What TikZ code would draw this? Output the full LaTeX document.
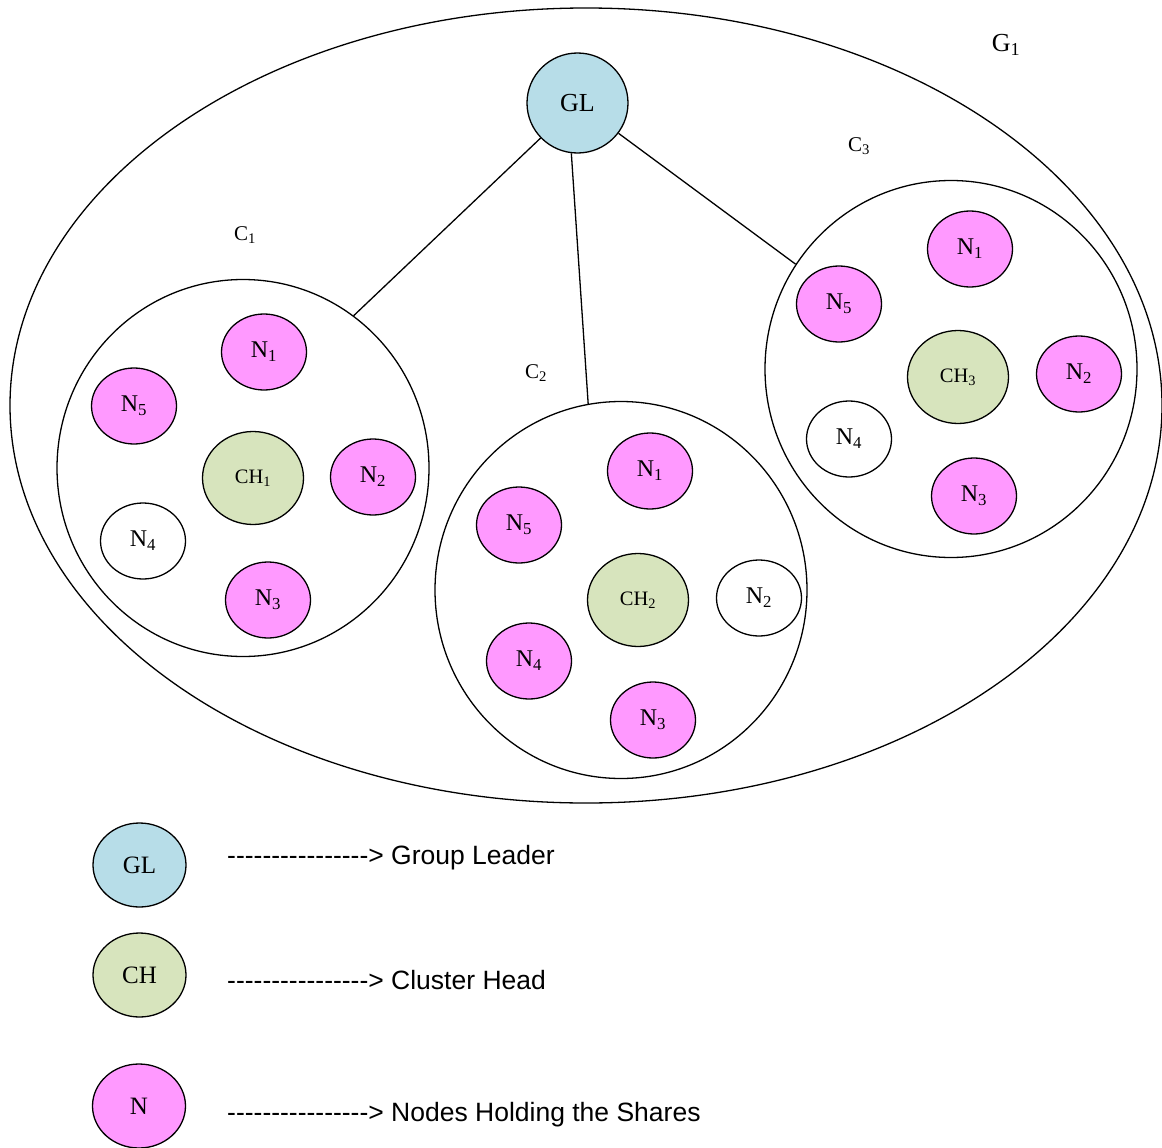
\documentclass[tikz,border=0pt]{standalone}
\usepackage{fontspec}
\setmainfont{Liberation Serif}
\newfontfamily\arialfont{Liberation Sans}
\usetikzlibrary{shapes.geometric}
\definecolor{glblue}{RGB}{183,221,232}
\definecolor{chgreen}{RGB}{215,228,189}
\definecolor{npink}{RGB}{255,153,255}
\newcommand{\dashrun}{-{}-{}-{}-{}-{}-{}-{}-{}-{}-{}-{}-{}-{}-{}-{}-{}>}
\begin{document}
\begin{tikzpicture}[x=1pt,y=-1pt,
  every node/.style={inner sep=0pt},
  base/.style={ellipse,draw=black,line width=1.3pt},
  nnode/.style={base,fill=npink,minimum width=85pt,minimum height=76pt,font=\fontsize{24}{26}\selectfont},
  wnode/.style={base,fill=white,minimum width=85pt,minimum height=76pt,font=\fontsize{24}{26}\selectfont},
  chnode/.style={base,fill=chgreen,minimum width=101pt,minimum height=93pt,font=\fontsize{20.5}{24}\selectfont},
  glnode/.style={base,fill=glblue,minimum width=101pt,minimum height=100pt,font=\fontsize{26}{28}\selectfont},
  cluster/.style={base,minimum width=372pt,minimum height=377pt},
  clabel/.style={font=\fontsize{21}{24}\selectfont},
  legnode/.style={base,minimum width=93pt,minimum height=84pt,font=\fontsize{25}{28}\selectfont},
  legtext/.style={anchor=west,font=\arialfont\fontsize{26.5}{30}\selectfont},
  link/.style={line width=1.3pt}
]
\useasboundingbox (0,0) rectangle (1162,1148);
% outer group
\node[base,minimum width=1152pt,minimum height=795pt] (G) at (586,405.5) {};
\node[font=\fontsize{26}{28}\selectfont] (Glab) at (1006,45) {G\textsubscript{1}};
% group leader
\node[glnode] (GL) at (577.5,103) {GL};
% clusters
\node[cluster] (C1) at (243,468) {};
\node[cluster] (C2) at (621,590) {};
\node[cluster] (C3) at (951,369) {};
\node[clabel] (C1l) at (245,235) {C\textsubscript{1}};
\node[clabel] (C2l) at (536,373) {C\textsubscript{2}};
\node[clabel] (C3l) at (859,146) {C\textsubscript{3}};
% links
\draw[link] (GL) -- (C1.54);
\draw[link] (GL.263) -- (C2.100);
\draw[link] (GL) -- (C3.146);
% cluster 1
\node[nnode] (a1) at (264,352) {N\textsubscript{1}};
\node[nnode] (a5) at (134,406) {N\textsubscript{5}};
\node[chnode] (ach) at (253,478) {CH\textsubscript{1}};
\node[nnode] (a2) at (373,477) {N\textsubscript{2}};
\node[wnode] (a4) at (143,541) {N\textsubscript{4}};
\node[nnode] (a3) at (268,600) {N\textsubscript{3}};
% cluster 2
\node[nnode] (b1) at (650,471) {N\textsubscript{1}};
\node[nnode] (b5) at (519,525) {N\textsubscript{5}};
\node[chnode] (bch) at (638,600) {CH\textsubscript{2}};
\node[wnode] (b2) at (759,598) {N\textsubscript{2}};
\node[nnode] (b4) at (529,661) {N\textsubscript{4}};
\node[nnode] (b3) at (653,720) {N\textsubscript{3}};
% cluster 3
\node[nnode] (c1) at (970,249) {N\textsubscript{1}};
\node[nnode] (c5) at (839,304) {N\textsubscript{5}};
\node[chnode] (cch) at (958,377) {CH\textsubscript{3}};
\node[nnode] (c2) at (1079,374) {N\textsubscript{2}};
\node[wnode] (c4) at (849,439) {N\textsubscript{4}};
\node[nnode] (c3) at (974,496) {N\textsubscript{3}};
% legend
\node[legnode,fill=glblue] (lgl) at (139.5,865) {GL};
\node[legnode,fill=chgreen] (lch) at (139.5,975) {CH};
\node[legnode,fill=npink] (ln) at (139,1106) {N};
\node[legtext] (tgl) at (227,858) {\dashrun{} Group Leader};
\node[legtext] (tch) at (227,980) {\dashrun{} Cluster Head};
\node[legtext] (tn) at (227,1115) {\dashrun{} Nodes Holding the Shares};
\end{tikzpicture}
\end{document}
